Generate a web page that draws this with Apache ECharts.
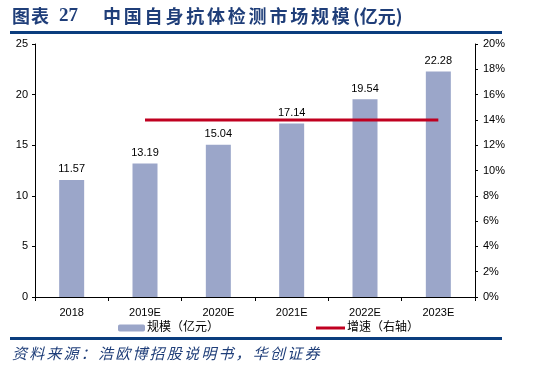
<!DOCTYPE html>
<html><head><meta charset="utf-8">
<script src="https://cdn.jsdelivr.net/npm/echarts@6/dist/echarts.min.js"></script>
<style>html,body{margin:0;padding:0;background:#fff;}#c{width:533px;height:372px;}</style>
</head><body><div id="c"></div>
<script>
const categories = ['2018','2019E','2020E','2021E','2022E','2023E'];
const marketSize = [11.57, 13.19, 15.04, 17.14, 19.54, 22.28];
const growthRate = [null, 14, 14, 14, 14, 14];
const leftTicks = [0, 5, 10, 15, 20, 25];
const rightTicks = [0, 2, 4, 6, 8, 10, 12, 14, 16, 18, 20];
const titleMain = '中国自身抗体检测市场规模';
const titleUnit = '(亿元)';
const sourceText = '资料来源：浩欧博招股说明书，华创证券';

const chart = echarts.init(document.getElementById('c'));
const font = 'Arial, "Liberation Sans", "Noto Sans CJK SC", sans-serif';
const titleFont = 'bold 18px "Noto Sans CJK SC", sans-serif';
const titleColor = '#1F3E79';
const graphics = [
  { type: 'text', left: 12, top: 7, style: { text: '图', fill: titleColor, font: titleFont } },
  { type: 'text', left: 31, top: 7, style: { text: '表', fill: titleColor, font: titleFont } },
  { type: 'text', left: 59, top: 7, style: { text: '27', fill: titleColor, font: 'bold 19px "Liberation Serif", serif' } },
  { type: 'rect', shape: { x: 10, y: 31, width: 492, height: 3 }, style: { fill: '#0B3D7E' } },
  { type: 'rect', shape: { x: 10, y: 337, width: 492, height: 3 }, style: { fill: '#0B3D7E' } }
];
titleMain.split('').forEach((ch, i) => {
  graphics.push({ type: 'text', left: 103 + i * 20.8, top: 7, style: { text: ch, fill: titleColor, font: titleFont } });
});
graphics.push({ type: 'text', left: 353, top: 7, style: { text: titleUnit, fill: titleColor, font: titleFont } });
sourceText.split('').forEach((ch, i) => {
  graphics.push({ type: 'text', left: 12 + i * 17.2, top: 346,
    style: { text: ch, fill: titleColor, font: 'italic 15px "Noto Sans CJK SC", sans-serif' } });
});

chart.setOption({
  animation: false,
  textStyle: { fontFamily: font },
  grid: { left: 35, right: 58, top: 44, bottom: 75, containLabel: false },
  legend: [
    { data: ['规模（亿元）'], left: 113, top: 317, itemWidth: 27, itemHeight: 7,
      textStyle: { fontSize: 12, color: '#000', fontFamily: font, padding: [0,0,0,-3] } },
    { data: [{ name: '增速（右轴）', icon: 'rect' }], left: 311, top: 317, itemWidth: 29, itemHeight: 3,
      textStyle: { fontSize: 12, color: '#000', fontFamily: font, padding: [0,0,0,-3] } }
  ],
  xAxis: {
    type: 'category', data: categories,
    axisLine: { lineStyle: { color: '#000', width: 1 } },
    axisTick: { show: true, alignWithLabel: false, length: 4, lineStyle: { color: '#000' } },
    axisLabel: { color: '#000', fontSize: 11, margin: 10 }
  },
  yAxis: [
    { type: 'value', min: 0, max: 25, interval: 5,
      axisLine: { show: true, lineStyle: { color: '#000' } },
      axisTick: { show: true, length: 3, lineStyle: { color: '#000' } },
      splitLine: { show: false },
      axisLabel: { color: '#000', fontSize: 11, margin: 7,
        formatter: v => leftTicks.includes(v) ? String(v) : '' } },
    { type: 'value', min: 0, max: 20, interval: 2, position: 'right',
      axisLine: { show: true, lineStyle: { color: '#000' } },
      axisTick: { show: true, length: 3, lineStyle: { color: '#000' } },
      splitLine: { show: false },
      axisLabel: { color: '#000', fontSize: 11, margin: 8,
        formatter: v => rightTicks.includes(v) ? v + '%' : '' } }
  ],
  series: [
    { name: '规模（亿元）', type: 'bar', data: marketSize, barWidth: 25, yAxisIndex: 0,
      itemStyle: { color: '#9BA6C9' },
      label: { show: true, position: 'top', color: '#000', fontSize: 11, distance: 5,
        formatter: p => p.value.toFixed(2) } },
    { name: '增速（右轴）', type: 'line', data: growthRate, yAxisIndex: 1,
      symbol: 'none', lineStyle: { color: '#C00020', width: 3 }, itemStyle: { color: '#C00020' } }
  ],
  graphic: graphics
});
</script></body></html>
